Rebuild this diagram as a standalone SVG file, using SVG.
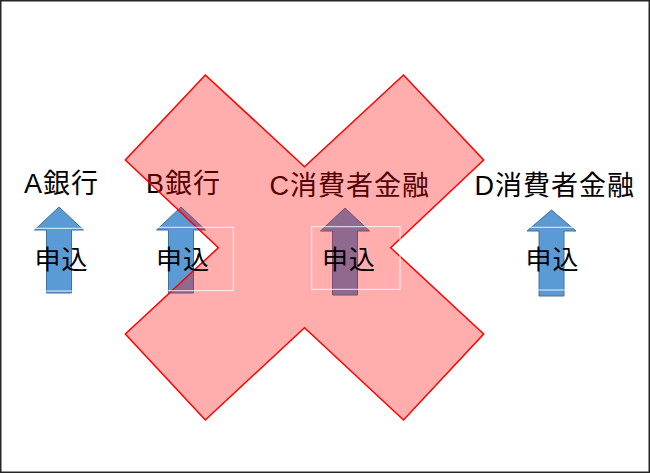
<svg xmlns="http://www.w3.org/2000/svg" width="650" height="473" viewBox="0 0 650 473">
<defs>
<style>
.t{font-family:"Liberation Sans","Noto Sans CJK JP",sans-serif;font-size:27px;letter-spacing:1px;fill:#000}
.s{font-family:"Noto Sans CJK JP","Liberation Sans",sans-serif;font-size:26px;letter-spacing:1px;fill:#000}
.arrow{fill:#5B9BD5;stroke:#41719C;stroke-width:1}
.box{fill:none;stroke:#FFFFFF;stroke-width:1;stroke-opacity:0.85}
</style>
</defs>
<rect x="0" y="0" width="650" height="473" fill="#FFFFFF"/>
<rect x="0.75" y="0.75" width="648.5" height="471.5" fill="none" stroke="#262626" stroke-width="1.5"/>
<g id="arrows">
<path class="arrow" d="M59,207 L83.5,230 L71.5,230 L71.5,293 L46.5,293 L46.5,230 L34.5,230 Z"/>
<path class="arrow" d="M181,207 L205.5,230 L193.5,230 L193.5,293 L168.5,293 L168.5,230 L156.5,230 Z"/>
<path class="arrow" d="M345,208 L369.5,231 L357.5,231 L357.5,295 L332.5,295 L332.5,231 L320.5,231 Z"/>
<path class="arrow" d="M551.5,210 L576,231 L564,231 L564,296 L539,296 L539,231 L527,231 Z"/>
</g>
<g id="titles">
<text id="A" class="t" x="24" y="192.5">A銀行</text>
<text id="B" class="t" x="146" y="193">B銀行</text>
<text id="C" class="t" x="269.5" y="195">C消費者金融</text>
<text id="D" class="t" x="474.5" y="194.5">D消費者金融</text>
</g>
<g id="cross">
<polygon points="205.3,75 304.5,166.7 403.5,75 483.7,160 390.7,247.7 483.7,334 403.5,420 304.5,327.7 205.3,420 125.3,334 218.3,247.7 125.3,160" fill="#FF0000" fill-opacity="0.32" stroke="#FF0000" stroke-width="1.5" stroke-linejoin="miter"/>
</g>
<g id="apply-A">
<rect class="box" x="23.5" y="228.3" width="88" height="62.7"/>
<text class="s" x="34.5" y="269">申込</text>
</g>
<g id="apply-B">
<rect class="box" x="145.3" y="227.3" width="88" height="63.4"/>
<text class="s" x="156" y="269">申込</text>
</g>
<g id="apply-C">
<rect class="box" x="311.7" y="226.7" width="88.3" height="62.6"/>
<text class="s" x="322" y="268.5">申込</text>
</g>
<g id="apply-D">
<rect class="box" x="514.5" y="227.3" width="88" height="62.7"/>
<text class="s" x="525.5" y="268.5">申込</text>
</g>
</svg>
